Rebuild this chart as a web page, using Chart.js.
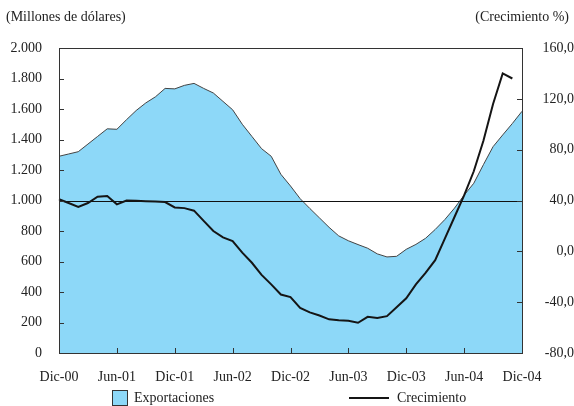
<!DOCTYPE html>
<html><head><meta charset="utf-8">
<script src="https://cdn.jsdelivr.net/npm/chart.js@4.4.0/dist/chart.umd.min.js"></script>
<style>
body{margin:0;background:#fff;}
#wrap{position:relative;width:574px;height:406px;font-family:"Liberation Serif","Times New Roman",serif;font-size:14px;color:#222;}
.t{position:absolute;white-space:nowrap;line-height:16px;}
#c{position:absolute;left:0;top:0;}
</style></head><body>
<div id="wrap">
<canvas id="c" width="574" height="406"></canvas>
<div class="t" style="left:6px;top:9px;">(Millones de dólares)</div>
<div class="t" style="right:5px;top:9px;">(Crecimiento %)</div>
<div style="position:absolute;left:112px;top:390px;width:14px;height:14px;background:#8dd8f8;border:1px solid #333;"></div>
<div class="t" style="left:134px;top:390px;">Exportaciones</div>
<div style="position:absolute;left:349px;top:397px;width:40px;height:2px;background:#151515;"></div>
<div class="t" style="left:397px;top:390px;">Crecimiento</div>
</div>
<script>
const months = ['Dic-00','Ene-01','Feb-01','Mar-01','Abr-01','May-01','Jun-01','Jul-01','Ago-01','Sep-01','Oct-01','Nov-01',
 'Dic-01','Ene-02','Feb-02','Mar-02','Abr-02','May-02','Jun-02','Jul-02','Ago-02','Sep-02','Oct-02','Nov-02',
 'Dic-02','Ene-03','Feb-03','Mar-03','Abr-03','May-03','Jun-03','Jul-03','Ago-03','Sep-03','Oct-03','Nov-03',
 'Dic-03','Ene-04','Feb-04','Mar-04','Abr-04','May-04','Jun-04','Jul-04','Ago-04','Sep-04','Oct-04','Nov-04','Dic-04'];
const exportaciones = [1290,1305,1320,1370,1420,1470,1467,1530,1590,1640,1680,1735,
 1732,1755,1768,1735,1705,1650,1595,1500,1420,1340,1290,1172,
 1095,1012,948,886,824,768,736,711,687,650,630,634,
 680,712,752,810,875,950,1035,1113,1235,1353,1430,1505,1585];
const crecimiento = [41,38,35,38,43,43.5,37,40,39.8,39.5,39.2,38.8,
 34.5,34,32,24,16,11,8,-1,-9,-18.5,-26,-34,
 -36,-44.5,-48,-50.5,-53.5,-54.2,-54.7,-56.2,-51.5,-52.5,-51,-44,
 -37,-26,-17,-7,10,27,44,63,87,116,140,136,null];
const xTickLabels = ['Dic-00','Jun-01','Dic-01','Jun-02','Dic-02','Jun-03','Dic-03','Jun-04','Dic-04'];
const leftTicks = ['0','200','400','600','800','1.000','1.200','1.400','1.600','1.800','2.000'];
const rightTicks = ['-80,0','-40,0','0,0','40,0','80,0','120,0','160,0'];

const FONT = {family:'"Liberation Serif","Times New Roman",serif', size:14};
const INK = '#222';

const framePlugin = {
  id:'frame',
  afterDatasetDraw(chart, args){
    if(args.index !== 0) return;
    const {ctx, chartArea:a} = chart;
    const y = Math.round(chart.scales.y.getPixelForValue(1000)) + 0.5;
    ctx.save();
    ctx.strokeStyle = '#111'; ctx.lineWidth = 1;
    ctx.beginPath(); ctx.moveTo(a.left, y); ctx.lineTo(a.right, y); ctx.stroke();
    ctx.restore();
  },
  afterDatasetsDraw(chart){
    const {ctx, chartArea:a, scales} = chart;
    ctx.save();
    ctx.strokeStyle = '#333'; ctx.lineWidth = 1;
    ctx.strokeRect(Math.round(a.left)+0.5, Math.round(a.top)+0.5, Math.round(a.right-a.left), Math.round(a.bottom-a.top));
    ctx.beginPath();
    scales.y.ticks.forEach(t=>{ const p=Math.round(scales.y.getPixelForValue(t.value))+0.5; ctx.moveTo(a.left,p); ctx.lineTo(a.left+5,p); });
    scales.y1.ticks.forEach(t=>{ const p=Math.round(scales.y1.getPixelForValue(t.value))+0.5; ctx.moveTo(a.right,p); ctx.lineTo(a.right-5,p); });
    months.forEach((m,i)=>{ if(i%6===0){ const p=Math.round(scales.x.getPixelForValue(i))+0.5; ctx.moveTo(p,a.bottom); ctx.lineTo(p,a.bottom-5);} });
    ctx.stroke();
    ctx.restore();
  }
};

new Chart(document.getElementById('c'), {
  type:'line',
  data:{labels:months, datasets:[
    {label:'Exportaciones', data:exportaciones, yAxisID:'y', fill:'origin', backgroundColor:'#8dd8f8', borderColor:'#444', borderWidth:1, pointRadius:0, tension:0, order:2},
    {label:'Crecimiento', data:crecimiento, yAxisID:'y1', fill:false, borderColor:'#151515', borderWidth:2, pointRadius:0, tension:0, order:1}
  ]},
  options:{
    responsive:false, animation:false, devicePixelRatio:1,
    layout:{padding:{top:48,left:0,right:0,bottom:0}},
    plugins:{legend:{display:false}, tooltip:{enabled:false}},
    scales:{
      x:{type:'category', offset:false, grid:{display:false, drawTicks:false}, border:{display:false},
         ticks:{autoSkip:false, maxRotation:0, minRotation:0, padding:16, font:FONT, color:INK,
           callback:(v,i)=> i%6===0 ? xTickLabels[i/6] : ''},
         afterFit:s=>{s.height=53;}},
      y:{position:'left', min:0, max:2000, grid:{display:false, drawTicks:false}, border:{display:false},
         ticks:{stepSize:200, padding:17, font:FONT, color:INK, callback:(v,i)=>leftTicks[i]},
         afterFit:s=>{s.width=59;}},
      y1:{position:'right', min:-80, max:160, grid:{display:false, drawTicks:false}, border:{display:false},
         ticks:{stepSize:40, padding:17, crossAlign:'far', font:FONT, color:INK, callback:(v,i)=>rightTicks[i]},
         afterFit:s=>{s.width=52;}}
    }
  },
  plugins:[framePlugin]
});
</script>
</body></html>
